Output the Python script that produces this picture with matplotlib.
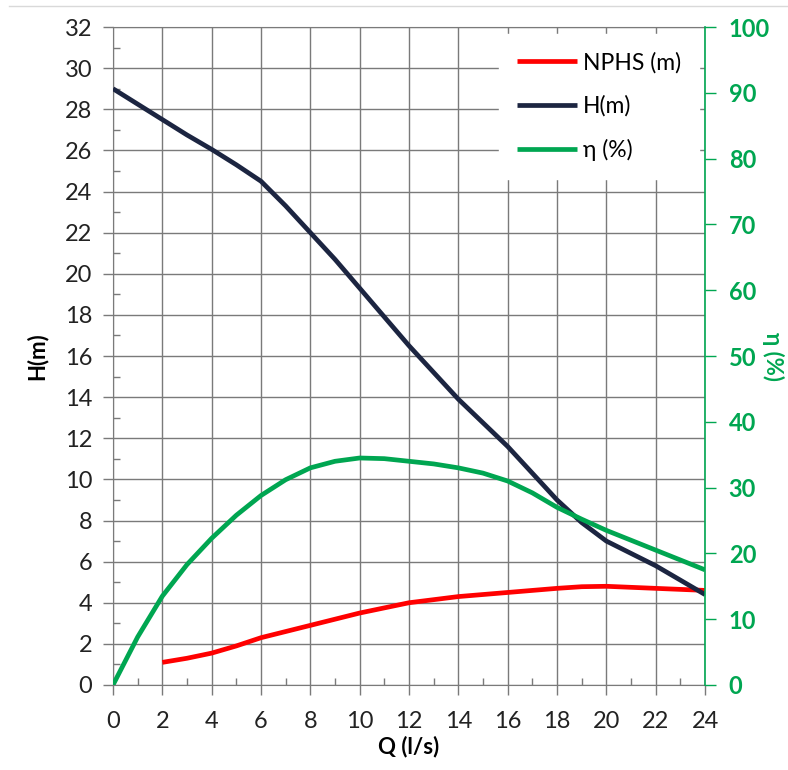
import matplotlib.pyplot as plt
from matplotlib.lines import Line2D
from matplotlib.ticker import MultipleLocator

plt.rcParams['font.family'] = ['Lato', 'DejaVu Sans']

# flow Q (l/s) and curves
q_h = [0, 1, 2, 3, 4, 5, 6, 7, 8, 9, 10, 11, 12, 13, 14, 15, 16, 17, 18, 19, 20, 21, 22, 23, 24]
head = [29.0, 28.25, 27.5, 26.75, 26.05, 25.3, 24.5, 23.3, 22.0, 20.7, 19.3, 17.9, 16.5, 15.2, 13.9, 12.75, 11.6, 10.3, 9.0, 7.9, 7.0, 6.4, 5.8, 5.1, 4.4]

q_npsh = [2, 3, 4, 5, 6, 7, 8, 9, 10, 11, 12, 13, 14, 15, 16, 17, 18, 19, 20, 21, 22, 23, 24]
npsh = [1.1, 1.3, 1.55, 1.9, 2.3, 2.6, 2.9, 3.2, 3.5, 3.75, 4.0, 4.15, 4.3, 4.4, 4.5, 4.6, 4.7, 4.78, 4.8, 4.75, 4.7, 4.65, 4.6]

q_eta = [0, 1, 2, 3, 4, 5, 6, 7, 8, 9, 10, 11, 12, 13, 14, 15, 16, 17, 18, 19, 20, 21, 22, 23, 24]
eta = [0, 7.3, 13.5, 18.3, 22.3, 25.8, 28.8, 31.2, 33.0, 34.0, 34.5, 34.4, 34.0, 33.6, 33.0, 32.2, 31.0, 29.2, 27.0, 25.2, 23.5, 22.0, 20.5, 19.0, 17.5]

navy = '#1c2541'
red = '#ff0000'
green = '#00a651'
grid_gray = '#7a7a7a'

fig = plt.figure(figsize=(7.88, 7.7), dpi=100)
ax = fig.add_axes([0.1434, 0.1104, 0.7513, 0.8545])
ax2 = ax.twinx()

l1, = ax.plot(q_npsh, npsh, color=red, lw=3.4, solid_capstyle='butt', zorder=3, label='NPHS (m)')
l2, = ax.plot(q_h, head, color=navy, lw=3.4, solid_capstyle='butt', zorder=4, label='H(m)')
l3, = ax2.plot(q_eta, eta, color=green, lw=3.4, solid_capstyle='butt', zorder=3, label='η (%)')

ax.set_xlim(0, 24)
ax.set_ylim(0, 32)
ax2.set_ylim(0, 100)

ax.xaxis.set_major_locator(MultipleLocator(2))
ax.xaxis.set_minor_locator(MultipleLocator(1))
ax.yaxis.set_major_locator(MultipleLocator(2))
ax.yaxis.set_minor_locator(MultipleLocator(1))
ax2.yaxis.set_major_locator(MultipleLocator(10))

ax.grid(True, which='major', color=grid_gray, lw=1.0)
ax.set_axisbelow(True)

ax.tick_params(axis='x', which='major', direction='out', length=7, width=1,
               color=grid_gray, labelsize=17, labelcolor='#222222', pad=12)
ax.tick_params(axis='y', which='major', direction='out', length=7, width=1,
               color=grid_gray, labelsize=17, labelcolor='#222222', pad=8)
ax.tick_params(axis='both', which='minor', direction='in', length=5, width=1, color=grid_gray)
ax2.tick_params(axis='y', which='major', direction='out', length=8, width=1,
                color=green, labelsize=17, labelcolor=green, pad=9)
for lab in ax2.get_yticklabels():
    lab.set_fontweight('bold')

for s in ['left', 'bottom', 'top']:
    ax.spines[s].set_color(grid_gray)
ax.spines['right'].set_visible(False)
for s in ['left', 'bottom', 'top']:
    ax2.spines[s].set_visible(False)
ax2.spines['right'].set_color(green)
ax2.spines['right'].set_linewidth(1.2)

ax.set_xlabel('Q (l/s)', fontsize=16, fontweight='bold', labelpad=2)
ax.set_ylabel('H(m)', fontsize=16, fontweight='bold', labelpad=12)
ax2.set_ylabel('η (%)', fontsize=16, fontweight='bold', color=green, rotation=-90, labelpad=10)

leg = ax2.legend(handles=[l1, l2, l3], loc='upper right', bbox_to_anchor=(0.99, 0.99),
                 frameon=True, fontsize=16.5, handlelength=2.6, labelspacing=0.95,
                 handletextpad=0.25, borderpad=0.8, borderaxespad=0)
leg.get_frame().set_facecolor('white')
leg.get_frame().set_edgecolor('white')
leg.get_frame().set_alpha(1)
leg.set_zorder(10)

fig.add_artist(Line2D([0.012, 1.0], [1 - 6 / 770, 1 - 6 / 770], color='#d9d9d9', lw=1))

fig.savefig('out.png', dpi=100)
